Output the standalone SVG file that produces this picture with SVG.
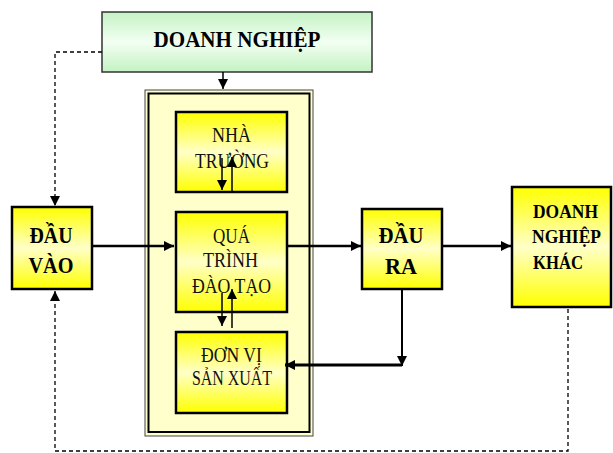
<svg xmlns="http://www.w3.org/2000/svg" width="613" height="453" viewBox="0 0 613 453">
<defs>
<linearGradient id="yel" x1="0" y1="0" x2="0" y2="1">
<stop offset="0" stop-color="#ffff00"/>
<stop offset="0.5" stop-color="#ffffc8"/>
<stop offset="1" stop-color="#ffff00"/>
</linearGradient>
<linearGradient id="grn" x1="0" y1="0" x2="0" y2="1">
<stop offset="0" stop-color="#c4f2c4"/>
<stop offset="0.5" stop-color="#f2fff2"/>
<stop offset="1" stop-color="#c4f2c4"/>
</linearGradient>
<marker id="ah" viewBox="0 0 10 10" refX="10" refY="5" markerWidth="11" markerHeight="10" markerUnits="userSpaceOnUse" orient="auto">
<path d="M0,0 L10,5 L0,10 Z" fill="#000"/>
</marker>
<marker id="ahs" viewBox="0 0 10 10" refX="10" refY="5" markerWidth="12" markerHeight="10" markerUnits="userSpaceOnUse" orient="auto">
<path d="M0,0 L10,5 L0,10 Z" fill="#000"/>
</marker>
</defs>
<style>
.box{fill:url(#yel);stroke:#000;stroke-width:2.5}
.b{font-family:"Liberation Serif","Times New Roman",serif;font-weight:bold;fill:#000}
.r{font-family:"Liberation Serif","Times New Roman",serif;fill:#111}
.ln{fill:none;stroke:#000}
.ds{fill:none;stroke:#000;stroke-width:1.3;stroke-dasharray:4,3}
</style>

<g id="container">
<rect x="145" y="90" width="168" height="346" fill="#ffffcc" stroke="#444" stroke-width="1"/>
<rect x="148.5" y="93.5" width="161" height="338.5" fill="none" stroke="#000" stroke-width="2"/>
</g>

<g id="doanh-nghiep">
<rect x="102" y="12" width="270" height="60" fill="url(#grn)" stroke="#333" stroke-width="1.5"/>
<text class="b" x="237" y="47" font-size="24" text-anchor="middle" textLength="167" lengthAdjust="spacingAndGlyphs">DOANH NGHIỆP</text>
</g>

<g id="dau-vao">
<rect class="box" x="12" y="207" width="80" height="82"/>
<text class="b" x="51" y="243" font-size="23" text-anchor="middle" textLength="43" lengthAdjust="spacingAndGlyphs">ĐẦU</text>
<text class="b" x="51" y="273" font-size="23" text-anchor="middle" textLength="45" lengthAdjust="spacingAndGlyphs">VÀO</text>
</g>

<g id="nha-truong">
<rect class="box" x="176" y="112" width="111" height="80"/>
<text class="r" x="231.5" y="142" font-size="21" text-anchor="middle" textLength="39" lengthAdjust="spacingAndGlyphs">NHÀ</text>
<text class="r" x="232" y="168" font-size="21" text-anchor="middle" textLength="74" lengthAdjust="spacingAndGlyphs">TRƯỜNG</text>
</g>

<g id="qua-trinh">
<rect class="box" x="176" y="212" width="111" height="100"/>
<text class="r" x="231.5" y="243" font-size="21" text-anchor="middle" textLength="37" lengthAdjust="spacingAndGlyphs">QUÁ</text>
<text class="r" x="230.5" y="267" font-size="21" text-anchor="middle" textLength="55" lengthAdjust="spacingAndGlyphs">TRÌNH</text>
<text class="r" x="231.5" y="293" font-size="21" text-anchor="middle" textLength="79" lengthAdjust="spacingAndGlyphs">ĐÀO TẠO</text>
</g>

<g id="don-vi">
<rect class="box" x="176" y="332" width="111" height="81"/>
<text class="r" x="231.5" y="362" font-size="21" text-anchor="middle" textLength="61" lengthAdjust="spacingAndGlyphs">ĐƠN VỊ</text>
<text class="r" x="232" y="385" font-size="21" text-anchor="middle" textLength="80" lengthAdjust="spacingAndGlyphs">SẢN XUẤT</text>
</g>

<g id="dau-ra">
<rect class="box" x="362" y="209" width="80" height="80"/>
<text class="b" x="401" y="243" font-size="23" text-anchor="middle" textLength="45" lengthAdjust="spacingAndGlyphs">ĐẦU</text>
<text class="b" x="401" y="274" font-size="23" text-anchor="middle" textLength="32" lengthAdjust="spacingAndGlyphs">RA</text>
</g>

<g id="doanh-nghiep-khac">
<rect class="box" x="512" y="187" width="99" height="120"/>
<text class="b" x="533" y="218" font-size="18.5" textLength="65" lengthAdjust="spacingAndGlyphs">DOANH</text>
<text class="b" x="532" y="243" font-size="18.5" textLength="69" lengthAdjust="spacingAndGlyphs">NGHIỆP</text>
<text class="b" x="533" y="269" font-size="18.5" textLength="50" lengthAdjust="spacingAndGlyphs">KHÁC</text>
</g>

<g id="connectors">
<line class="ln" x1="223" y1="72" x2="223" y2="89" stroke-width="1.5" marker-end="url(#ah)"/>
<line class="ln" x1="222" y1="158" x2="222" y2="190" stroke-width="1.5" marker-end="url(#ah)"/>
<line class="ln" x1="232" y1="192" x2="232" y2="157" stroke-width="1.5" marker-end="url(#ah)"/>
<line class="ln" x1="222" y1="293" x2="222" y2="326" stroke-width="1.5" marker-end="url(#ah)"/>
<line class="ln" x1="232" y1="328" x2="232" y2="289" stroke-width="1.5" marker-end="url(#ah)"/>
<line class="ln" x1="92" y1="246" x2="174" y2="246" stroke-width="2.5" marker-end="url(#ahs)"/>
<line class="ln" x1="287" y1="246" x2="361" y2="246" stroke-width="2.5" marker-end="url(#ahs)"/>
<line class="ln" x1="442" y1="246" x2="511" y2="246" stroke-width="2.5" marker-end="url(#ahs)"/>
<line class="ln" x1="402" y1="289" x2="402" y2="366" stroke-width="2" marker-end="url(#ah)"/>
<line class="ln" x1="402" y1="365" x2="285" y2="365" stroke-width="3" marker-end="url(#ahs)"/>
<polyline class="ds" points="102,52 55,52 55,206" marker-end="url(#ah)"/>
<polyline class="ds" points="568,309 568,451 55,451 55,291" marker-end="url(#ah)"/>
</g>
</svg>
